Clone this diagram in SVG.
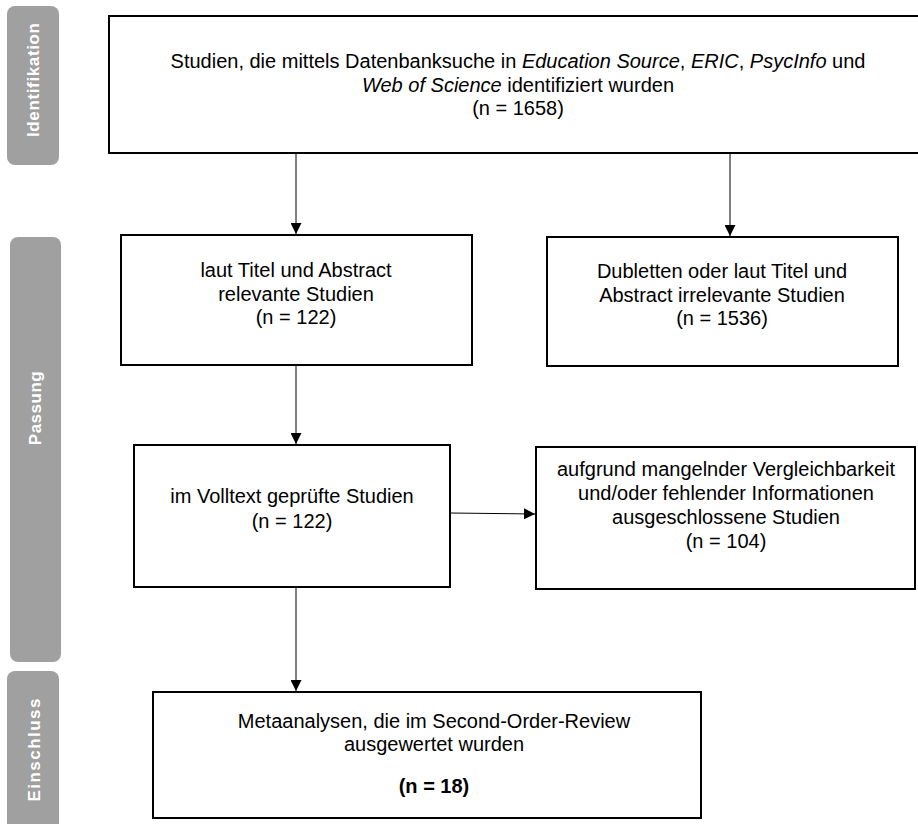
<svg xmlns="http://www.w3.org/2000/svg" width="918" height="824" viewBox="0 0 918 824">
<defs>
<style>
.tab{fill:#a0a0a0}
.tabt{fill:#ffffff;font-family:"Liberation Sans",Arial,sans-serif;font-weight:bold;font-size:17px;text-anchor:middle}
.box{fill:#ffffff;stroke:#000000;stroke-width:2}
.t{font-family:"Liberation Sans",Arial,sans-serif;font-size:20px;fill:#000000;text-anchor:middle}
.i{font-style:italic}
.b{font-weight:bold}
.c{stroke:#000000;stroke-width:1;fill:none;marker-end:url(#ah)}
</style>
<marker id="ah" viewBox="0 0 11 11" refX="11" refY="5.5" markerWidth="11" markerHeight="11" markerUnits="userSpaceOnUse" orient="auto">
<path d="M0,0 L11,5.5 L0,11 z" fill="#000000"/>
</marker>
</defs>
<rect width="918" height="824" fill="#ffffff"/>

<g id="tab-identifikation">
<rect class="tab" x="7" y="6" width="52" height="159" rx="8"/>
<text class="tabt" transform="translate(39,80) rotate(-90)" textLength="114" lengthAdjust="spacing">Identifikation</text>
</g>
<g id="tab-passung">
<rect class="tab" x="10" y="237" width="51" height="425" rx="8"/>
<text class="tabt" transform="translate(41,408) rotate(-90)" style="letter-spacing:0.5px">Passung</text>
</g>
<g id="tab-einschluss">
<rect class="tab" x="7" y="671" width="52" height="170" rx="8"/>
<text class="tabt" transform="translate(40,750) rotate(-90)" textLength="103" lengthAdjust="spacing">Einschluss</text>
</g>

<g id="connectors">
<line class="c" x1="296" y1="153" x2="296" y2="234"/>
<line class="c" x1="730" y1="153" x2="730" y2="236"/>
<line class="c" x1="296" y1="365" x2="296" y2="444"/>
<line class="c" x1="450" y1="513" x2="535" y2="514"/>
<line class="c" x1="296" y1="587" x2="296" y2="691"/>
</g>

<g id="node-identified">
<rect class="box" x="109" y="16" width="830" height="137"/>
<text class="t" x="518" y="68">Studien, die mittels Datenbanksuche in <tspan class="i">Education Source</tspan>, <tspan class="i">ERIC</tspan>, <tspan class="i">PsycInfo</tspan> und</text>
<text class="t" x="518" y="92"><tspan class="i">Web of Science</tspan> identifiziert wurden</text>
<text class="t" x="518" y="115">(n = 1658)</text>
</g>

<g id="node-relevant">
<rect class="box" x="121" y="235" width="351" height="130"/>
<text class="t" x="296" y="277">laut Titel und Abstract</text>
<text class="t" x="296" y="301">relevante Studien</text>
<text class="t" x="296" y="324">(n = 122)</text>
</g>

<g id="node-irrelevant">
<rect class="box" x="547" y="237" width="351" height="129"/>
<text class="t" x="722" y="278">Dubletten oder laut Titel und</text>
<text class="t" x="722" y="302">Abstract irrelevante Studien</text>
<text class="t" x="722" y="325">(n = 1536)</text>
</g>

<g id="node-fulltext">
<rect class="box" x="134" y="445" width="316" height="142"/>
<text class="t" x="292" y="503">im Volltext geprüfte Studien</text>
<text class="t" x="292" y="528">(n = 122)</text>
</g>

<g id="node-excluded">
<rect class="box" x="536" y="447" width="379" height="142"/>
<text class="t" x="726" y="476">aufgrund mangelnder Vergleichbarkeit</text>
<text class="t" x="726" y="500">und/oder fehlender Informationen</text>
<text class="t" x="726" y="524">ausgeschlossene Studien</text>
<text class="t" x="726" y="548">(n = 104)</text>
</g>

<g id="node-included">
<rect class="box" x="153" y="692" width="548" height="126"/>
<text class="t" x="434" y="728">Metaanalysen, die im Second-Order-Review</text>
<text class="t" x="434" y="751">ausgewertet wurden</text>
<text class="t b" x="434" y="793">(n = 18)</text>
</g>
</svg>
